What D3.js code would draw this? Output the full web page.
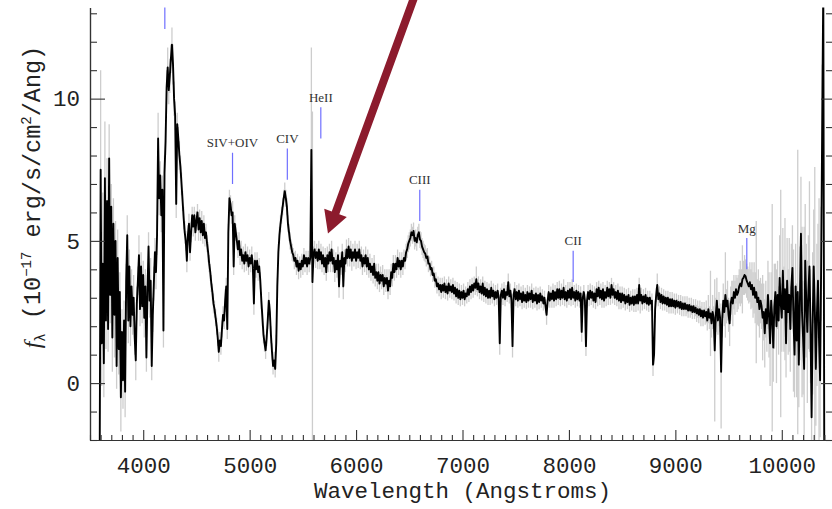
<!DOCTYPE html>
<html>
<head>
<meta charset="utf-8">
<script src="https://cdn.jsdelivr.net/npm/d3@7"></script>
<style>
  html, body { margin: 0; padding: 0; background: #fff; }
  svg { display: block; }
</style>
</head>
<body>
<svg id="chart" width="832" height="509"></svg>
<script>
// Spectrum sampled on a regular wavelength grid (Angstroms)
const waveStart = 3590;
const waveStep = 10;

// f_lambda in units of 1e-17 erg/s/cm^2/Ang; each row spans 100 Angstroms
const flux = [
  -4.0, 7.5, 1.4, 4.2, 0.7, 7.2, 2.2, 6.4, 1.9, 7.9,
  3.1, 6.2, 1.6, 5.6, 2.4, 5.0, 0.6, 4.4, 1.2, 3.2,
  -0.5, 1.8, 0.1, 2.2, -0.3, 3.6, 5.2, 2.2, 4.1, 2.0,
  3.4, 2.4, 3.0, 1.6, 0.8, 2.8, 3.6, 4.5, 2.6, 4.1,
  2.7, 3.8, 2.3, 3.4, 0.9, 3.2, 4.8, 2.9, 3.6, 0.6,
  2.4, 3.5, 4.6, 3.9, 5.2, 8.6, 6.5, 7.3, 5.9, 6.8,
  1.85, 7.4, 8.5, 10.4, 11.1, 10.3, 10.8, 11.4, 11.9, 11.2,
  10.0, 9.4, 6.3, 9.1, 8.6, 8.0, 7.6, 7.0, 6.4, 5.8,
  5.3, 5.0, 4.3, 5.2, 5.6, 4.6, 5.3, 5.9, 5.5, 5.9,
  5.3, 5.7, 6.0, 5.4, 5.8, 5.3, 5.7, 5.2, 5.6, 5.1,
  5.3, 4.9, 4.6, 4.2, 3.9, 3.5, 3.2, 2.8, 2.6, 2.3,
  2.0, 1.6, 1.1, 1.5, 1.3, 1.9, 2.4, 2.2, 2.9, 3.4,
  1.9, 5.3, 6.5, 6.3, 5.9, 6.0, 4.1, 5.6, 5.3, 5.0,
  4.7, 5.0, 4.5, 4.7, 4.3, 4.5, 4.2, 4.6, 4.3, 4.5,
  4.1, 4.4, 4.2, 4.5, 4.1, 2.8, 4.3, 4.0, 4.3, 3.9,
  4.1, 3.6, 2.9, 2.3, 1.7, 1.4, 1.15, 1.6, 2.2, 2.9,
  2.5, 1.7, 1.1, 0.6, 0.8, 0.5, 1.4, 3.4, 4.6, 5.2,
  5.6, 5.9, 6.2, 6.5, 6.75, 6.5, 6.2, 5.6, 5.3, 5.0,
  4.8, 4.6, 4.5, 4.3, 4.4, 4.1, 4.3, 3.95, 4.2, 4.0,
  4.3, 4.1, 4.5, 4.2, 4.4, 4.1, 4.4, 4.2, 4.4, 8.2,
  3.55, 4.5, 4.7, 4.4, 4.6, 4.3, 4.7, 4.35, 4.6, 4.2,
  4.5, 4.1, 4.4, 3.9, 4.5, 4.2, 4.6, 4.3, 4.7, 4.2,
  4.4, 3.9, 4.3, 4.0, 4.5, 3.4, 4.3, 4.1, 4.6, 3.4,
  4.4, 4.2, 4.7, 4.4, 4.8, 4.4, 4.7, 4.3, 4.6, 4.4,
  4.7, 4.3, 4.6, 4.4, 4.7, 4.3, 4.5, 4.1, 4.4, 4.2,
  4.5, 4.1, 4.4, 4.0, 4.2, 3.9, 4.1, 3.8, 4.2, 3.7,
  3.9, 3.6, 3.9, 3.5, 3.8, 3.6, 3.8, 3.4, 3.7, 3.5,
  3.7, 3.25, 3.6, 3.4, 3.9, 3.7, 4.2, 3.9, 4.2, 4.0,
  4.4, 4.1, 4.3, 4.0, 4.3, 4.1, 4.4, 4.3, 4.6, 4.7,
  4.9, 5.0, 5.1, 5.3, 5.2, 5.35, 5.0, 5.1, 4.95, 5.2,
  5.3, 5.05, 5.0, 4.8, 4.7, 4.6, 4.55, 4.4, 4.45, 4.2,
  4.2, 4.0, 4.05, 3.8, 3.85, 3.6, 3.65, 3.4, 3.5, 3.3,
  3.45, 3.2, 3.45, 3.25, 3.5, 3.2, 3.4, 3.15, 3.5, 3.25,
  3.4, 3.2, 3.45, 3.15, 3.35, 3.05, 3.3, 3.0, 3.25, 2.95,
  3.2, 3.0, 3.25, 2.95, 3.15, 3.05, 3.3, 3.1, 3.4, 3.2,
  3.45, 3.25, 3.5, 3.35, 3.65, 3.3, 3.5, 3.2, 3.4, 3.15,
  3.5, 3.1, 3.35, 3.05, 3.3, 3.0, 3.25, 3.0, 3.35, 3.05,
  3.25, 2.95, 3.2, 3.0, 3.25, 3.0, 1.4, 3.1, 3.25, 3.0,
  3.3, 2.95, 3.2, 3.1, 3.55, 3.05, 3.25, 2.9, 1.3, 3.1,
  3.3, 2.95, 3.2, 2.9, 3.25, 2.95, 3.15, 2.85, 3.2, 2.9,
  3.1, 2.85, 3.2, 2.9, 3.15, 2.95, 3.25, 2.85, 3.1, 2.9,
  3.15, 2.8, 3.1, 2.85, 3.15, 2.9, 3.05, 2.8, 3.0, 2.7,
  2.4, 2.9, 3.2, 2.9, 3.15, 2.95, 3.25, 2.9, 3.2, 2.95,
  3.3, 3.0, 3.3, 2.95, 3.25, 3.0, 3.35, 2.95, 3.2, 2.9,
  3.25, 3.0, 3.3, 2.95, 3.35, 3.0, 3.2, 2.9, 3.25, 2.95,
  3.2, 2.9, 3.15, 1.8, 3.0, 3.2, 2.9, 1.3, 2.9, 3.2,
  2.95, 3.25, 3.0, 3.2, 2.9, 3.15, 2.85, 3.3, 3.05, 3.35,
  3.0, 3.25, 2.95, 3.3, 2.9, 3.2, 3.0, 3.35, 3.05, 3.3,
  3.0, 3.45, 3.1, 3.3, 3.0, 3.2, 2.95, 3.25, 2.9, 3.15,
  2.85, 3.15, 2.9, 3.1, 2.8, 3.05, 2.85, 3.1, 2.75, 3.0,
  2.8, 3.05, 2.75, 3.05, 2.8, 3.1, 2.8, 3.45, 2.9, 3.1,
  2.8, 3.05, 2.85, 3.1, 2.8, 3.0, 2.75, 3.0, 2.8, 2.9,
  0.65, 1.0, 2.6, 3.1, 3.45, 2.95, 3.15, 2.85, 3.1, 2.8,
  3.05, 2.8, 3.0, 2.75, 3.0, 2.7, 2.95, 2.7, 2.95, 2.7,
  2.9, 2.65, 2.9, 2.7, 2.85, 2.65, 2.85, 2.6, 2.8, 2.6,
  2.8, 2.6, 2.75, 2.55, 2.75, 2.55, 2.7, 2.5, 2.7, 2.5,
  2.65, 2.45, 2.6, 2.4, 2.6, 2.35, 2.55, 2.3, 2.55, 2.35,
  2.5, 2.2, 2.6, 2.3, 2.45, 2.1, 2.5, 2.3, 1.15, 2.4,
  2.9, 2.2, 2.6, 2.3, 0.4, 2.2, 2.9, 2.5, 3.1, 2.7,
  2.9, 2.4, 2.1, 2.8, 3.0, 2.8, 3.2, 3.0, 3.3, 3.1,
  3.2, 3.4, 3.5, 3.4, 3.65, 3.7, 3.8, 3.75, 3.6, 3.5,
  3.4, 3.55, 3.3, 3.45, 3.1, 3.35, 3.0, 3.2, 2.85, 3.0,
  2.6, 2.9, 2.7, 2.3, 2.5, 1.75, 2.6, 2.1, 3.1, 2.4,
  1.4, 2.9, 2.3, 1.25, 2.7, 3.2, 2.0, 3.1, 2.2, 3.7,
  2.8, 2.3, 3.95, 2.6, 3.3, 1.4, 3.6, 2.5, 3.1, 1.9,
  3.4, 4.05, 2.2, 1.0, 3.4, 1.5, 3.2, 0.65, 2.8, 5.25,
  2.5, 1.6, 0.5, 4.3, 2.9, 1.8, 3.2, 4.1, 2.0, -1.2,
  2.1, 4.1, 2.6, 0.5, 2.4, 3.6, 1.5, 0.1, 4.2, 9.2,
  14.0, -4.0
];

// 1-sigma uncertainty on the same grid
const fluxErr = [
  0.0, 3.5, 1.5, 2.5, 1.2, 2.0, 1.0, 1.5, 0.8, 1.2,
  1.0, 0.8, 1.2, 0.9, 1.5, 0.7, 0.8, 1.0, 0.9, 0.7,
  1.2, 0.8, 1.0, 0.7, 0.9, 0.6, 0.7, 0.8, 0.6, 0.7,
  0.6, 0.7, 0.8, 0.6, 0.7, 0.6, 0.5, 0.7, 0.6, 0.5,
  0.6, 0.5, 0.7, 0.6, 0.5, 0.6, 0.5, 0.6, 0.8, 0.5,
  0.6, 0.6, 0.5, 0.6, 0.7, 0.9, 0.6, 0.5, 0.6, 0.5,
  0.6, 0.6, 0.5, 0.6, 0.7, 0.5, 0.6, 0.5, 0.6, 0.7,
  0.6, 0.5, 0.5, 0.4, 0.4, 0.5, 0.4, 0.4, 0.35, 0.4,
  0.4, 0.35, 0.4, 0.35, 0.35, 0.3, 0.35, 0.3, 0.35, 0.3,
  0.3, 0.35, 0.3, 0.4, 0.3, 0.3, 0.35, 0.3, 0.3, 0.3,
  0.3, 0.3, 0.35, 0.3, 0.3, 0.3, 0.3, 0.35, 0.3, 0.3,
  0.3, 0.3, 0.35, 0.3, 0.3, 0.3, 0.3, 0.3, 0.4, 0.3,
  0.35, 0.3, 0.3, 0.3, 0.3, 0.4, 0.3, 0.3, 0.3, 0.3,
  0.3, 0.3, 0.35, 0.3, 0.3, 0.3, 0.3, 0.3, 0.35, 0.3,
  0.3, 0.3, 0.3, 0.3, 0.3, 0.4, 0.3, 0.3, 0.3, 0.3,
  0.3, 0.3, 0.3, 0.3, 0.3, 0.3, 0.3, 0.3, 0.3, 0.3,
  0.3, 0.3, 0.3, 0.3, 0.3, 0.3, 0.3, 0.3, 0.3, 0.3,
  0.3, 0.3, 0.3, 0.3, 0.3, 0.3, 0.3, 0.3, 0.3, 0.3,
  0.25, 0.3, 0.25, 0.3, 0.25, 0.3, 0.25, 0.3, 0.25, 0.3,
  0.25, 0.3, 0.25, 0.3, 0.25, 0.3, 0.25, 0.3, 0.25, 3.6,
  6.0, 0.3, 0.3, 0.35, 0.3, 0.3, 0.3, 0.35, 0.3, 0.3,
  0.3, 0.3, 0.35, 0.3, 0.3, 0.3, 0.3, 0.4, 0.3, 0.3,
  0.3, 0.35, 0.3, 0.3, 0.3, 0.4, 0.3, 0.3, 0.3, 0.45,
  0.3, 0.3, 0.35, 0.3, 0.3, 0.3, 0.3, 0.35, 0.3, 0.3,
  0.3, 0.3, 0.3, 0.35, 0.3, 0.3, 0.3, 0.3, 0.3, 0.3,
  0.3, 0.3, 0.3, 0.3, 0.35, 0.3, 0.3, 0.3, 0.3, 0.3,
  0.3, 0.3, 0.3, 0.3, 0.3, 0.3, 0.35, 0.3, 0.3, 0.3,
  0.3, 0.3, 0.4, 0.3, 0.3, 0.3, 0.3, 0.3, 0.3, 0.3,
  0.3, 0.3, 0.3, 0.3, 0.3, 0.3, 0.3, 0.3, 0.3, 0.3,
  0.3, 0.3, 0.3, 0.3, 0.3, 0.3, 0.3, 0.3, 0.3, 0.3,
  0.3, 0.3, 0.3, 0.3, 0.3, 0.3, 0.3, 0.3, 0.3, 0.3,
  0.25, 0.25, 0.25, 0.25, 0.25, 0.25, 0.25, 0.25, 0.25, 0.25,
  0.25, 0.25, 0.25, 0.25, 0.25, 0.25, 0.25, 0.25, 0.25, 0.25,
  0.25, 0.25, 0.25, 0.25, 0.25, 0.25, 0.25, 0.25, 0.25, 0.25,
  0.25, 0.25, 0.25, 0.25, 0.25, 0.25, 0.25, 0.25, 0.25, 0.25,
  0.25, 0.25, 0.25, 0.25, 0.45, 0.25, 0.25, 0.25, 0.25, 0.25,
  0.25, 0.25, 0.25, 0.25, 0.25, 0.25, 0.25, 0.25, 0.25, 0.25,
  0.25, 0.25, 0.25, 0.25, 0.25, 0.25, 0.4, 0.25, 0.25, 0.25,
  0.25, 0.25, 0.25, 0.25, 0.3, 0.25, 0.25, 0.25, 0.4, 0.25,
  0.25, 0.25, 0.25, 0.25, 0.25, 0.25, 0.25, 0.25, 0.25, 0.25,
  0.25, 0.25, 0.25, 0.25, 0.25, 0.3, 0.25, 0.25, 0.25, 0.25,
  0.25, 0.25, 0.25, 0.25, 0.25, 0.25, 0.25, 0.25, 0.25, 0.25,
  0.35, 0.25, 0.25, 0.25, 0.25, 0.3, 0.25, 0.25, 0.25, 0.25,
  0.25, 0.25, 0.3, 0.25, 0.25, 0.25, 0.3, 0.25, 0.25, 0.25,
  0.3, 0.25, 0.25, 0.25, 0.3, 0.25, 0.25, 0.25, 0.25, 0.25,
  0.25, 0.25, 0.25, 0.35, 0.25, 0.25, 0.25, 0.35, 0.25, 0.25,
  0.25, 0.25, 0.25, 0.25, 0.25, 0.25, 0.25, 0.25, 0.35, 0.25,
  0.25, 0.25, 0.3, 0.25, 0.25, 0.25, 0.3, 0.25, 0.3, 0.25,
  0.25, 0.25, 0.3, 0.25, 0.25, 0.25, 0.25, 0.25, 0.3, 0.25,
  0.25, 0.25, 0.25, 0.25, 0.25, 0.25, 0.25, 0.25, 0.25, 0.25,
  0.25, 0.25, 0.25, 0.25, 0.3, 0.25, 0.25, 0.25, 0.45, 0.25,
  0.25, 0.25, 0.25, 0.25, 0.25, 0.25, 0.25, 0.25, 0.25, 0.25,
  0.4, 0.35, 0.3, 0.25, 0.4, 0.25, 0.25, 0.25, 0.25, 0.25,
  0.25, 0.25, 0.25, 0.25, 0.25, 0.25, 0.25, 0.25, 0.25, 0.25,
  0.25, 0.25, 0.25, 0.25, 0.25, 0.25, 0.25, 0.25, 0.25, 0.25,
  0.25, 0.25, 0.3, 0.25, 0.25, 0.25, 0.3, 0.25, 0.25, 0.25,
  0.3, 0.3, 0.3, 0.3, 0.3, 0.35, 0.3, 0.3, 0.3, 0.3,
  0.4, 0.35, 0.5, 0.4, 1.5, 0.5, 0.6, 0.4, 2.5, 0.6,
  0.8, 0.5, 0.6, 0.5, 2.0, 0.6, 0.6, 0.5, 1.5, 0.6,
  0.7, 0.6, 0.8, 0.6, 0.6, 0.8, 0.6, 0.6, 0.5, 0.6,
  0.6, 0.6, 0.8, 0.6, 1.2, 0.6, 0.7, 0.6, 0.6, 0.6,
  0.6, 0.7, 0.7, 0.8, 0.8, 0.9, 0.9, 2.5, 0.8, 1.0,
  1.0, 0.8, 0.8, 1.5, 1.0, 1.2, 1.0, 1.0, 1.2, 1.5,
  1.5, 1.0, 4.0, 1.2, 1.5, 1.0, 2.0, 1.2, 1.2, 1.5,
  4.0, 1.2, 1.5, 1.5, 2.5, 1.2, 1.5, 1.5, 2.0, 1.5,
  1.5, 1.5, 2.5, 1.5, 1.5, 2.0, 5.0, 1.5, 2.0, 2.0,
  3.0, 2.0, 5.0, 2.0, 2.0, 2.5, 2.0, 3.0, 2.0, 2.5,
  2.5, 2.0, 5.0, 2.0, 2.5, 2.0, 5.0, 2.0, 2.0, 2.0,
  0.0, 0.0
];

// Emission lines: rest wavelengths, shifted by the source redshift
const redshift = 2.4565;
const lineNames = ["Ly\u03b1", "SIV+OIV", "CIV", "HeII", "CIII", "CII", "Mg"];
const lineRest = [1216, 1400, 1549, 1640, 1909, 2326, 2798];
const lineMarkFlux = [12.45, 7.0, 7.15, 8.6, 5.7, 3.55, 4.0];
const lineMarkLength = 1.1;

// Axis ticks
const xMajorTicks = [4000, 5000, 6000, 7000, 8000, 9000, 10000];
const yMajorTicks = [0, 5, 10];

// Annotation arrow (wavelength, flux) from tail to tip
const arrowTail = [6569, 13.8];
const arrowTip = [5736, 5.26];

const svg = d3.select("#chart");
const plot = { left: 90, right: 835, top: 7.6, bottom: 440 };

const x = d3.scaleLinear().domain([3500, 10500]).range([plot.left, plot.right]);
const y = d3.scaleLinear().domain([-2, 13.2]).range([plot.bottom, plot.top]);

svg.append("rect").attr("width", 832).attr("height", 509).attr("fill", "#fff");

svg.append("defs").append("clipPath").attr("id", "plotClip")
  .append("rect")
  .attr("x", plot.left).attr("y", plot.top)
  .attr("width", plot.right - plot.left).attr("height", plot.bottom - plot.top);

const n = Math.min(flux.length, fluxErr.length);
const spec = d3.range(n).map(i => ({ w: waveStart + i * waveStep, f: flux[i], e: fluxErr[i] }));

const dataLayer = svg.append("g").attr("clip-path", "url(#plotClip)");

// uncertainty: one vertical bar per pixel sample
dataLayer.append("g")
  .selectAll("line")
  .data(spec.filter(d => d.e > 0))
  .join("line")
  .attr("x1", d => x(d.w)).attr("x2", d => x(d.w))
  .attr("y1", d => y(d.f - d.e)).attr("y2", d => y(d.f + d.e))
  .attr("stroke", "#cdcdcd")
  .attr("stroke-width", 1.3);

// spectrum
dataLayer.append("path")
  .datum(spec)
  .attr("fill", "none")
  .attr("stroke", "#000")
  .attr("stroke-width", 1.9)
  .attr("stroke-linejoin", "round")
  .attr("d", d3.line().x(d => x(d.w)).y(d => y(d.f)));

// line identification markers
const lines = lineNames.map((name, i) => ({
  name, w: lineRest[i] * (1 + redshift), f: lineMarkFlux[i]
}));
dataLayer.selectAll("line.mark").data(lines).join("line")
  .attr("class", "mark")
  .attr("x1", d => x(d.w)).attr("x2", d => x(d.w))
  .attr("y1", d => y(d.f)).attr("y2", d => y(d.f + lineMarkLength))
  .attr("stroke", "#6f6fff").attr("stroke-width", 1.2);

svg.selectAll("text.linelabel")
  .data(lines.filter(d => y(d.f + lineMarkLength) - 20 > plot.top))
  .join("text")
  .attr("class", "linelabel")
  .attr("x", d => x(d.w))
  .attr("y", d => y(d.f + lineMarkLength) - 5.5)
  .attr("text-anchor", "middle")
  .attr("font-family", "'Liberation Serif', 'DejaVu Serif', serif")
  .attr("font-size", 13)
  .attr("fill", "#333")
  .text(d => d.name);

// axes
const axisColor = "#333";
const tickFont = "'Liberation Mono', 'DejaVu Sans Mono', monospace";

function styleAxis(g) {
  g.attr("font-family", tickFont).attr("font-size", 22.5);
  g.selectAll(".domain").attr("stroke", axisColor).attr("stroke-width", 1.2);
  g.selectAll(".tick line").attr("stroke", axisColor).attr("stroke-width", 1.1);
  g.selectAll(".tick text").attr("fill", "#222");
}

const xMinor = d3.range(3500, 10501, 100).filter(v => !xMajorTicks.includes(v));
const yMinor = d3.range(-2, 14, 1).filter(v => !yMajorTicks.includes(v));

svg.append("g").attr("transform", `translate(0,${plot.bottom})`)
  .call(d3.axisBottom(x).tickValues(xMinor).tickSize(-5).tickSizeOuter(0).tickFormat(""))
  .call(styleAxis);
svg.append("g").attr("transform", `translate(0,${plot.bottom})`)
  .call(d3.axisBottom(x).tickValues(xMajorTicks).tickSize(-10).tickSizeOuter(0).tickPadding(17).tickFormat(d3.format("d")))
  .call(styleAxis);

svg.append("g").attr("transform", `translate(${plot.left},0)`)
  .call(d3.axisLeft(y).tickValues(yMinor).tickSize(-7).tickSizeOuter(0).tickFormat(""))
  .call(styleAxis);
svg.append("g").attr("transform", `translate(${plot.left},0)`)
  .call(d3.axisLeft(y).tickValues(yMajorTicks).tickSize(-15).tickSizeOuter(0).tickPadding(10).tickFormat(d3.format("d")))
  .call(styleAxis);

svg.append("g").attr("transform", `translate(${plot.right},0)`)
  .call(d3.axisRight(y).tickValues(yMinor).tickSize(-9).tickSizeOuter(0).tickFormat(""))
  .call(styleAxis);
svg.append("g").attr("transform", `translate(${plot.right},0)`)
  .call(d3.axisRight(y).tickValues(yMajorTicks).tickSize(-14).tickSizeOuter(0).tickFormat(""))
  .call(styleAxis);

// axis titles
svg.append("text")
  .attr("x", (plot.left + plot.right) / 2)
  .attr("y", 498)
  .attr("text-anchor", "middle")
  .attr("font-family", tickFont)
  .attr("font-size", 22.5)
  .attr("fill", "#222")
  .text("Wavelength (Angstroms)");

const yTitle = svg.append("text")
  .attr("transform", "translate(40,197) rotate(-90)")
  .attr("text-anchor", "middle")
  .attr("font-family", tickFont)
  .attr("font-size", 23.5)
  .attr("fill", "#222");
yTitle.append("tspan").attr("font-family", "'Liberation Serif', serif").attr("font-style", "italic").text("f");
yTitle.append("tspan").attr("font-size", 14).attr("dy", 5).text("\u03bb");
yTitle.append("tspan").attr("dy", -5).text(" (10");
yTitle.append("tspan").attr("font-size", 14).attr("dy", -9).text("\u221217");
yTitle.append("tspan").attr("dy", 9).text(" erg/s/cm");
yTitle.append("tspan").attr("font-size", 14).attr("dy", -9).text("2");
yTitle.append("tspan").attr("dy", 9).text("/Ang)");

// annotation arrow
(function drawArrow() {
  const x0 = x(arrowTail[0]), y0 = y(arrowTail[1]);
  const x1 = x(arrowTip[0]), y1 = y(arrowTip[1]);
  const dx = x1 - x0, dy = y1 - y0, len = Math.hypot(dx, dy);
  const ux = dx / len, uy = dy / len, nx = -uy, ny = ux;
  const headLen = 22, headHalf = 12, shaftHalf = 4;
  const bx = x1 - ux * headLen, by = y1 - uy * headLen;
  const pts = [
    [x0 + nx * shaftHalf, y0 + ny * shaftHalf],
    [bx + nx * shaftHalf, by + ny * shaftHalf],
    [bx + nx * headHalf, by + ny * headHalf],
    [x1, y1],
    [bx - nx * headHalf, by - ny * headHalf],
    [bx - nx * shaftHalf, by - ny * shaftHalf],
    [x0 - nx * shaftHalf, y0 - ny * shaftHalf]
  ];
  svg.append("path")
    .attr("d", "M" + pts.map(p => p.join(",")).join("L") + "Z")
    .attr("fill", "#8c1b2d");
})();
</script>
</body>
</html>
